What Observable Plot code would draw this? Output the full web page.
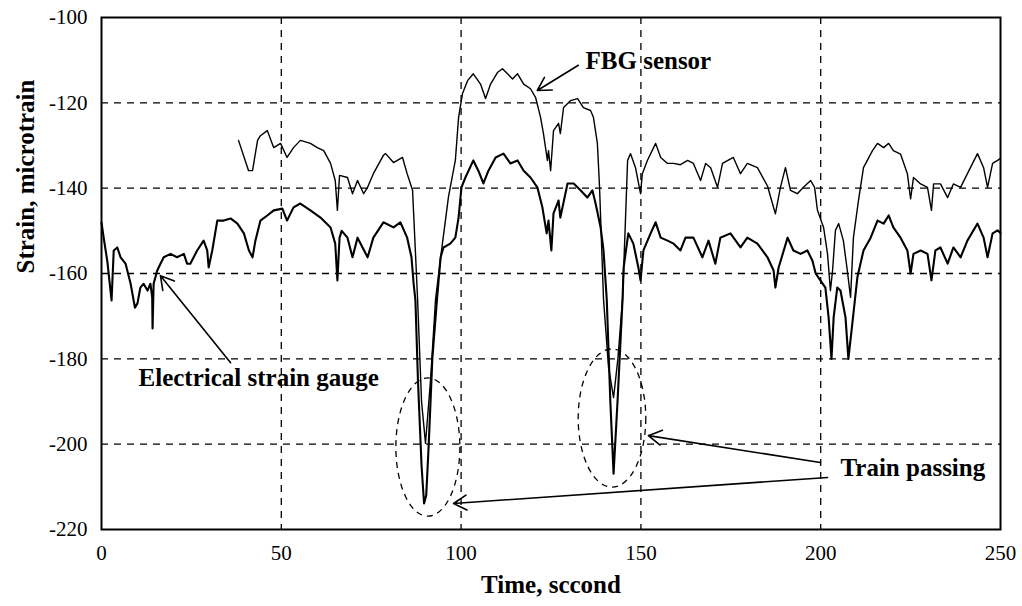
<!DOCTYPE html>
<html>
<head>
<meta charset="utf-8">
<script src="https://cdn.jsdelivr.net/npm/d3@7"></script>
<script src="https://cdn.jsdelivr.net/npm/@observablehq/plot@0.6"></script>
<style>
  html, body { margin: 0; padding: 0; background: #fff; }
  #chart { width: 1022px; height: 606px; }
</style>
</head>
<body>
<div id="chart"></div>
<script>
// Electrical strain gauge (time in s, strain in microstrain)
const esgTime = [0,0.6,1.6,2.5,2.8,3.4,4.4,5.3,6.7,8.1,9.3,10,10.8,11.7,12.8,13.6,14.1,14.2,14.5,15.5,16.4,17.3,19.2,21,22.9,23.8,24.7,26.6,28.4,29.4,29.8,30.8,32.2,34,35.9,37.8,39.6,41,42,42.8,44.2,46.1,47.9,50.3,51.6,53.4,55.3,58.1,60.9,63.7,65,65.6,66.2,66.8,68.4,69.8,71.2,72.6,74,75.6,78.4,81.2,83.1,85,86.2,86.8,87.3,88,89,89.7,90.3,91,92,93.3,94.3,95.1,97,98.4,99.3,100.1,101.2,103.4,104.8,106.2,107.6,109.6,111.8,113.7,115.7,117.4,119.3,121.2,122.6,123.8,124.3,125.1,125.7,127.1,127.6,129.6,131.3,133.2,135.1,136.5,137.4,138.8,139.6,140.5,141.5,142.4,143.5,144.9,145.2,146.5,147.9,149.3,149.9,150.7,152.7,154.1,155.5,157.4,159.1,161,162.4,164.6,167.1,168.8,170.7,172.1,174.9,177.7,179.6,182.4,185.2,186.9,187.4,188.3,190.8,192.4,194.4,196.3,197.7,198.6,199.9,201.3,202.2,203,203.6,204.6,205.5,206.9,207.7,208.8,210.2,211.9,213.9,215.8,217.5,218.9,220.2,222.2,224.1,225,225.8,227.8,229.7,230.8,231.9,233.3,235.3,236.9,238.9,240.8,243.6,245.3,246.4,247.8,249.2,250];
const esgStrain = [-148,-151.6,-157,-164,-166.3,-154.6,-153.9,-156.2,-157.7,-162.4,-168,-167,-163.3,-162.4,-164,-162.4,-165.6,-172.9,-162.4,-159.3,-157.7,-156.2,-155.4,-156.2,-155.4,-157.7,-157.7,-154.6,-152.3,-154.6,-158.6,-154.6,-147.6,-147.6,-147.1,-148.3,-150.6,-154.6,-156.2,-152.3,-147.6,-146.4,-145.2,-144.8,-147.6,-144.5,-143.6,-145.2,-146.9,-149.2,-153,-161.6,-151.6,-150,-151.6,-156.2,-151.6,-153.9,-156.2,-151.6,-148,-149.2,-148,-151.6,-156.2,-162.4,-166.3,-185,-205,-213.9,-212,-200,-180,-166,-156.2,-153.9,-153,-151.6,-146.9,-139.8,-137.5,-133.5,-135.9,-138.9,-135.9,-132.8,-131.9,-134.2,-133.5,-135.9,-137.5,-139.8,-144.5,-150.6,-147.6,-154.6,-145.9,-142.9,-146.9,-138.9,-138.9,-140.5,-142.2,-140.5,-143.6,-149.2,-154.6,-166,-190,-206.9,-190,-166,-158.6,-150.6,-153,-158.6,-161.6,-154.6,-150.6,-148,-151.6,-152.3,-153,-154.6,-151.6,-151.6,-156.2,-152.3,-157.7,-151.6,-150.6,-153.9,-151.6,-153,-156.2,-159.3,-163.3,-158.6,-151.6,-154.6,-155.4,-154.6,-157,-160,-161.6,-163.3,-170.3,-180,-170.3,-163.3,-164,-170.3,-180,-171.7,-160.9,-154.6,-151.6,-147.6,-148.3,-146.4,-149.2,-151.6,-154.6,-160,-155.4,-154.6,-155.4,-161.6,-154.6,-153.9,-157.7,-153.9,-156.2,-152.3,-148.3,-151.6,-156.2,-150.6,-149.9,-150.5];

// FBG sensor
const fbgTime = [38.1,40.9,42,43.4,44.2,46.1,47.9,49.8,51.6,53.4,55.3,58.1,60,61.8,63.7,65,65.6,66.2,68.4,69.8,71.2,72.9,74,75.6,78.4,79,81.2,83.7,85,86.5,87.3,87.9,89,90.1,91.5,92.9,94.5,96.5,98.4,99.3,100.4,101.8,103.4,105.4,106.8,108.2,110.1,111.5,112.9,114.3,115.7,117.4,119.3,120.7,122.1,122.9,124,124.3,124.9,125.7,127.1,127.6,128.5,130.4,132.4,134,136,136.8,137.9,138.5,139.6,141,142.4,143.6,144.9,145.6,146.3,147.1,148.5,149.9,150.4,151.8,154.1,155.5,157.4,159.1,161,163,164.6,166.6,168,169.4,171.3,172.7,175.7,177.7,179.6,182.4,185.2,187.4,188.8,190.2,191.6,193.5,195.2,197.2,198.3,199.1,200.8,201.9,202.7,203.3,204.1,205,206.3,207.4,208.3,209.1,210.5,211.9,214.4,215.8,217.5,218.9,220.2,222.2,224.1,225,225.8,227.8,229.7,230.8,231.4,233.3,235.3,236.9,238.9,240.8,243.6,245.3,246.4,247.8,249.2,250];
const fbgStrain = [-128.8,-135.9,-135.9,-128.8,-127.7,-126.5,-130.5,-129.5,-132.8,-130.5,-128.8,-129.5,-130.5,-131.2,-134.2,-138.2,-145.2,-137,-137.5,-141.3,-138.2,-141.3,-139.8,-136.6,-132.3,-131.9,-134,-132.8,-136.6,-140.5,-155,-166,-190,-199.8,-185,-166,-155,-142,-133.5,-123.4,-117.8,-114.8,-113.2,-115.6,-119,-115.6,-112.9,-112,-113.2,-114.4,-113.2,-115.6,-116.7,-118.7,-123.4,-127.2,-133.5,-131.2,-135.9,-126.5,-124.8,-127.2,-121.1,-119.5,-119,-121.1,-121.8,-123.4,-129.5,-139.8,-166,-182,-189.1,-180,-166,-150,-133.5,-131.9,-135.2,-141.3,-136.6,-133.5,-129.5,-132.8,-134.2,-134.2,-134.5,-133.5,-134.2,-138.2,-134.2,-135.2,-139.8,-134.2,-132.8,-136.6,-134.2,-135.2,-139.5,-146,-139.8,-135.2,-140.5,-141.3,-139.8,-138.2,-139.8,-145.2,-149.2,-155.4,-164,-159.3,-149.9,-148.3,-152.3,-159.3,-165.6,-151.6,-142.9,-135.2,-131.2,-129.5,-130.5,-129.5,-131.2,-132,-136.6,-142.5,-137.5,-139,-139.8,-145.2,-139,-139,-142.2,-139,-139.8,-136.6,-131.9,-135.2,-139.8,-134.2,-133.5,-133];

const xTicks = [0, 50, 100, 150, 200, 250];
const yTicks = [-100, -120, -140, -160, -180, -200, -220];
const xGrid = [50, 100, 150, 200];
const yGrid = [-120, -140, -160, -180, -200];

// annotations
const labels = [
  {t: 134.6, v: -110.3, text: "FBG sensor"},
  {t: 10.3, v: -184.4, text: "Electrical strain gauge"},
  {t: 205.5, v: -205.7, text: "Train passing"}
];
const arrows = [
  {t1: 132.6, v1: -111.2, t2: 121.2, v2: -117.1},
  {t1: 35.9, v1: -180.9, t2: 16.4, v2: -160.5},
  {t1: 199.9, v1: -204.3, t2: 152.1, v2: -198.0},
  {t1: 201.9, v1: -207.8, t2: 97.9, v2: -213.9}
];
const ellipses = [
  {t: 90.9, v: -200.8, rt: 8.9, rv: 16.2},
  {t: 142.1, v: -194.0, rt: 9.4, rv: 16.2}
];

const esg = esgTime.map((t, i) => ({t, v: esgStrain[i]}));
const fbg = fbgTime.map((t, i) => ({t, v: fbgStrain[i]}));

const bold = {fontFamily: "Liberation Serif", fontWeight: "bold", fontSize: 25, fill: "black"};

const plot = Plot.plot({
  width: 1022,
  height: 606,
  marginLeft: 101,
  marginRight: 22,
  marginTop: 17,
  marginBottom: 77,
  style: {fontFamily: "Liberation Serif", fontSize: "21px", color: "black", background: "white"},
  x: {domain: [0, 250], ticks: xTicks, tickSize: 0, tickPadding: 16, tickFormat: d => String(d), label: null},
  y: {domain: [-220, -100], ticks: yTicks, tickSize: 0, tickPadding: 14, tickFormat: d => String(d), label: null},
  marks: [
    Plot.ruleX(xGrid, {stroke: "black", strokeWidth: 1.3, strokeDasharray: "7,6"}),
    Plot.ruleY(yGrid, {stroke: "black", strokeWidth: 1.3, strokeDasharray: "7,6"}),
    Plot.line(fbg, {x: "t", y: "v", stroke: "black", strokeWidth: 1.4}),
    Plot.line(esg, {x: "t", y: "v", stroke: "black", strokeWidth: 2.1}),
    Plot.arrow(arrows, {x1: "t1", y1: "v1", x2: "t2", y2: "v2", stroke: "black", strokeWidth: 1.6, headLength: 14}),
    Plot.text(labels, {x: "t", y: "v", text: "text", textAnchor: "start", ...bold}),
    Plot.text(["Strain, microtrain"], {frameAnchor: "left", rotate: -90, dx: -76, ...bold}),
    Plot.text(["Time, sccond"], {frameAnchor: "bottom", dy: 63, ...bold}),
    Plot.frame({stroke: "black", strokeWidth: 2})
  ]
});

// dashed ellipses placed through the plot's own scales
const sx = plot.scale("x"), sy = plot.scale("y");
const g = d3.select(plot).append("g");
for (const e of ellipses) {
  const cx = sx.apply(e.t), cy = sy.apply(e.v);
  g.append("ellipse")
    .attr("cx", cx).attr("cy", cy)
    .attr("rx", Math.abs(sx.apply(e.t + e.rt) - cx))
    .attr("ry", Math.abs(sy.apply(e.v + e.rv) - cy))
    .attr("fill", "none").attr("stroke", "black")
    .attr("stroke-width", 1.3).attr("stroke-dasharray", "6,5");
}

document.getElementById("chart").appendChild(plot);
</script>
</body>
</html>
